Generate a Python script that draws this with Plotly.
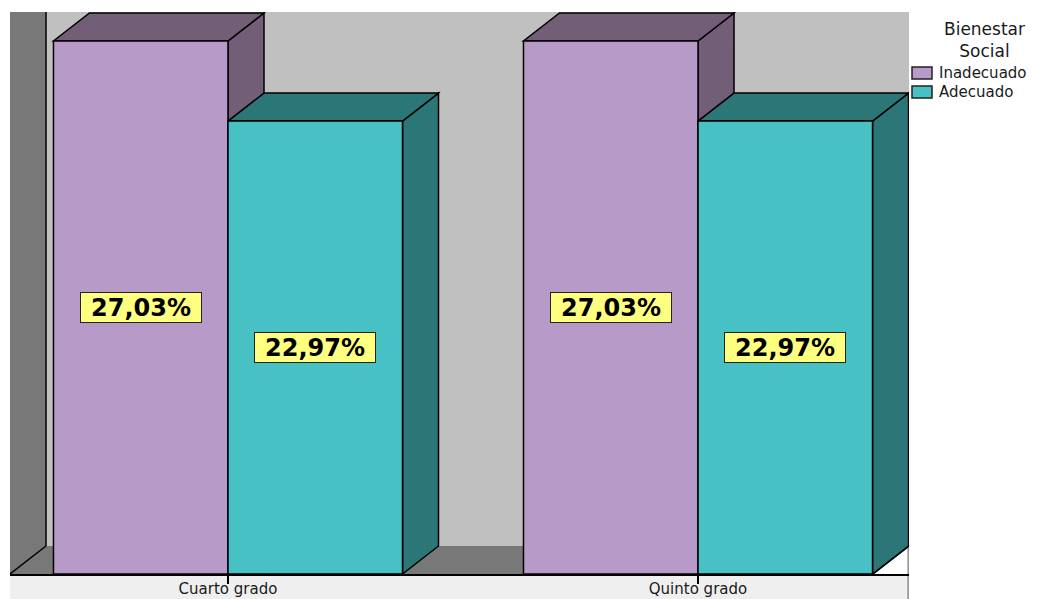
import plotly.graph_objects as go

# --- data -------------------------------------------------------------
grados = ["Cuarto grado", "Quinto grado"]
series = ["Inadecuado", "Adecuado"]
inadecuado = [27.03, 27.03]
adecuado = [22.97, 22.97]
legend_title = "Bienestar<br>Social"

# --- styling ----------------------------------------------------------
front_color = {"Inadecuado": "#B89AC9", "Adecuado": "#48C1C5"}
shade_color = {"Inadecuado": "#735E78", "Adecuado": "#2B7676"}
WALL_BACK = "#C0C0C0"
WALL_SIDE = "#787878"
LABEL_STRIP = "#EFEFEF"
TEXT = "#1a1a1a"
FONT = "DejaVu Sans"

# axis extents and pseudo-3D depth (in data units)
X_MIN, X_MAX = -0.4638, 1.4489
Y_MAX = 28.5
DX, DY = 0.0766, 1.42
BW = 0.3713

# plot area in pixels (for placing the legend in the right margin)
PLOT_L, PLOT_W, PLOT_T, PLOT_H = 10, 899, 12, 562

xpos = list(range(len(grados)))
values = {"Inadecuado": inadecuado, "Adecuado": adecuado}
offsets = {"Inadecuado": -BW, "Adecuado": 0.0}


def path(points):
    return "M " + " L ".join(f"{x},{y}" for x, y in points) + " Z"


def fmt(v):
    return f"{v:.2f}".replace(".", ",") + "%"


def px_x(px):
    return (px - PLOT_L) / PLOT_W


def px_y(py):
    return 1 - (py - PLOT_T) / PLOT_H


shapes = []
edge = dict(color="black", width=1.5)

# back wall, floor and left wall
shapes.append(dict(type="path", xref="x", yref="y", layer="below",
                   path=path([(X_MIN + DX, DY), (X_MAX, DY), (X_MAX, Y_MAX), (X_MIN + DX, Y_MAX)]),
                   fillcolor=WALL_BACK, line=dict(width=0)))
shapes.append(dict(type="path", xref="x", yref="y", layer="below",
                   path=path([(X_MIN, 0), (X_MAX - DX, 0), (X_MAX, DY), (X_MIN + DX, DY)]),
                   fillcolor=WALL_SIDE, line=dict(width=0)))
shapes.append(dict(type="path", xref="x", yref="y", layer="below",
                   path=path([(X_MIN, 0), (X_MIN + DX, DY), (X_MIN + DX, Y_MAX), (X_MIN, Y_MAX)]),
                   fillcolor=WALL_SIDE, line=dict(width=0)))
shapes.append(dict(type="line", xref="x", yref="y", layer="below",
                   x0=X_MIN + DX, y0=DY, x1=X_MIN + DX, y1=Y_MAX, line=edge))
shapes.append(dict(type="line", xref="x", yref="y", layer="below",
                   x0=X_MIN, y0=0, x1=X_MIN + DX, y1=DY, line=edge))
shapes.append(dict(type="line", xref="x", yref="y", layer="below",
                   x0=X_MAX - DX, y0=0, x1=X_MAX, y1=DY, line=edge))

# strip under the category axis
shapes.append(dict(type="rect", xref="paper", yref="paper", layer="below",
                   x0=0, x1=0.999, y0=-25 / PLOT_H, y1=0,
                   fillcolor=LABEL_STRIP, line=dict(width=0)))
shapes.append(dict(type="line", xref="paper", yref="paper", layer="below",
                   x0=0.999, x1=0.999, y0=-25 / PLOT_H, y1=DY / Y_MAX,
                   line=dict(color="#555555", width=1)))

# top and side faces of every bar
for i, xc in enumerate(xpos):
    for name in series:
        v = values[name][i]
        x0 = xc + offsets[name]
        x1 = x0 + BW
        shapes.append(dict(type="path", xref="x", yref="y", layer="below",
                           path=path([(x1, 0), (x1, v), (x1 + DX, v + DY), (x1 + DX, DY)]),
                           fillcolor=shade_color[name], line=edge))
        shapes.append(dict(type="path", xref="x", yref="y", layer="below",
                           path=path([(x0, v), (x1, v), (x1 + DX, v + DY), (x0 + DX, v + DY)]),
                           fillcolor=shade_color[name], line=edge))

fig = go.Figure()
annotations = []
for name in series:
    fig.add_trace(go.Bar(
        name=name, x=xpos, y=values[name],
        width=BW, offset=offsets[name], showlegend=False,
        marker=dict(color=front_color[name], line=dict(color="black", width=1.5)),
    ))
    for xc, v in zip(xpos, values[name]):
        annotations.append(dict(
            x=xc + offsets[name] + BW / 2, y=v / 2, xref="x", yref="y",
            text=fmt(v), showarrow=False,
            font=dict(family=FONT, size=24, color="black", weight="bold"),
            bgcolor="#FFFF80", bordercolor="#222222", borderwidth=1,
            borderpad=0, width=120, height=29,
        ))

# legend: title, colour swatches and series names in the right margin
annotations.append(dict(
    x=px_x(984), y=px_y(17), xref="paper", yref="paper",
    text=legend_title, showarrow=False, xanchor="center", yanchor="top",
    align="center", font=dict(family=FONT, size=17, color=TEXT),
))
for k, name in enumerate(series):
    yc = 73 + 19 * k
    shapes.append(dict(type="rect", xref="paper", yref="paper",
                       x0=px_x(912), x1=px_x(932), y0=px_y(yc - 6), y1=px_y(yc + 6),
                       fillcolor=front_color[name], line=dict(color="#222222", width=1.5)))
    annotations.append(dict(
        x=px_x(937), y=px_y(yc), xref="paper", yref="paper",
        text=name, showarrow=False, xanchor="left", yanchor="middle",
        font=dict(family=FONT, size=15, color=TEXT),
    ))

fig.update_layout(
    template="none",
    width=1053, height=599, autosize=False,
    margin=dict(l=PLOT_L, r=1053 - PLOT_L - PLOT_W, t=PLOT_T, b=599 - PLOT_T - PLOT_H, pad=0),
    paper_bgcolor="white", plot_bgcolor="white",
    font=dict(family=FONT, size=16, color=TEXT),
    barmode="overlay",
    shapes=shapes,
    annotations=annotations,
    showlegend=False,
    xaxis=dict(
        range=[X_MIN, X_MAX], tickvals=xpos, ticktext=grados,
        showgrid=False, zeroline=False, automargin=False,
        showline=True, linecolor="black", linewidth=1.5,
        ticks="outside", ticklen=8, tickwidth=1.5, tickcolor="black",
        ticklabelstandoff=-8,
        tickfont=dict(family=FONT, size=15, color=TEXT),
    ),
    yaxis=dict(range=[0, Y_MAX], visible=False, showgrid=False,
               zeroline=False, automargin=False),
)

fig.write_html("out.html")
